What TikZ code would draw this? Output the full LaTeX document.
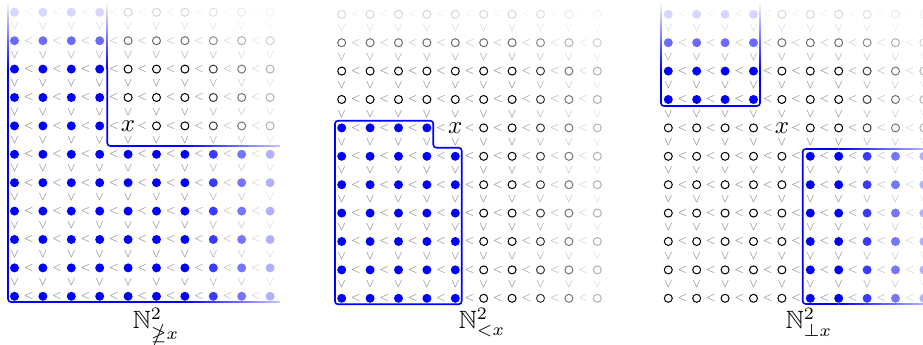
\documentclass[tikz,border=0pt]{standalone}
\usepackage{amssymb}
\usepackage{graphicx}
\begin{document}
\newcommand{\lsym}{\scalebox{0.8}{$\scriptscriptstyle<$}}
\newcommand{\mygrid}[4]{%
\foreach \ci in {0,...,9}{%
 \foreach \ri in {0,...,10}{%
  \pgfmathsetmacro{\px}{#2+28.4*\ci}%
  \pgfmathsetmacro{\py}{#3+28.4*\ri}%
  \pgfmathsetmacro{\al}{100*max(0,min(1,1-(\ci-6)*0.23))*max(0,min(1,1-(2-\ri)*0.42))}%
  \pgfmathtruncatemacro{\isx}{and(\ci==4,\ri==4)}%
  \pgfmathtruncatemacro{\isf}{#4}%
  \ifnum\isx=1
    \node[inner sep=0pt] (#1-\ci-\ri) at (\px,\py) {$x$};
  \else\ifnum\isf=1
    \node[dot=blue!\al!white] (#1-\ci-\ri) at (\px,\py) {};
  \else
    \node[ring=black!\al!white] (#1-\ci-\ri) at (\px,\py) {};
  \fi\fi
  \ifnum\ci<9
    \pgfmathsetmacro{\bl}{48*max(0,min(1,1-(\ci+0.5-6)*0.23))*max(0,min(1,1-(2-\ri)*0.42))}%
    \node[lt=black!\bl!white] (#1-h-\ci-\ri) at (\px+14.2,\py) {\lsym};
  \fi
  \ifnum\ri<10
    \pgfmathsetmacro{\bl}{48*max(0,min(1,1-(\ci-6)*0.23))*max(0,min(1,1-(1.5-\ri)*0.42))}%
    \node[lt=black!\bl!white,rotate=90] (#1-v-\ci-\ri) at (\px,\py+14.2) {\lsym};
  \fi
}}}
\newcommand{\fadeline}[6]{%
 \foreach \k in {0,...,29}{%
  \pgfmathsetmacro{\fa}{100*(#5+(#6-#5)*(\k+0.5)/30)}%
  \draw[blue!\fa!white,line width=0.65pt] ({#1+(#3-#1)*\k/30},{#2+(#4-#2)*\k/30}) -- ({#1+(#3-#1)*(\k+1)/30},{#2+(#4-#2)*(\k+1)/30});
 }}
\begin{tikzpicture}[x=0.4pt,y=-0.4pt,
  dot/.style={circle,inner sep=0pt,minimum size=3.6pt,fill=#1},
  ring/.style={circle,inner sep=0pt,minimum size=3.2pt,draw=#1,line width=0.4pt},
  lt/.style={inner sep=0pt,text=#1},
  region/.style={draw=blue,line width=0.65pt,rounded corners=1.2pt},
  lbl/.style={anchor=base,inner sep=0pt}]
\useasboundingbox (0,0) rectangle (923,345);
% grid 1
\mygrid{a}{14.5}{12.3}{or(\ci<4,\ri>4)}
\draw[region] (8,69.1) |- (184.9,302);
\fadeline{8}{3}{8}{69.1}{0.02}{1}
\fadeline{184.9}{302}{280}{302}{1}{0.23}
\draw[region] (107.3,69.1) |- (184.9,146);
\fadeline{107.3}{3}{107.3}{69.1}{0.02}{1}
\fadeline{184.9}{146}{280}{146}{1}{0.23}
\node[lbl] (la) at (156,329) {$\mathbb{N}^2_{\ngeq x}$};
% grid 2
\mygrid{b}{341.7}{14.3}{and(and(\ci<5,\ri>3),not(and(\ci==4,\ri==4)))}
\draw[region] (335,120.7) -- (433.3,120.7) -- (433.3,147.7) -- (461.7,147.7) -- (461.7,304.3) -- (335,304.3) -- cycle;
\node[lbl] (lb) at (482,329) {$\mathbb{N}^2_{<x}$};
% grid 3
\mygrid{c}{668.3}{14.3}{or(and(\ci<4,\ri<4),and(\ci>4,\ri>4))}
\draw[region] (661,70.9) -- (661,106) -- (760,106) -- (760,70.9);
\fadeline{661}{3}{661}{70.9}{0.02}{1}
\fadeline{760}{3}{760}{70.9}{0.02}{1}
\draw[region] (838.7,149) -| (802.7,304) -- (838.7,304);
\fadeline{838.7}{149}{934}{149}{1}{0.23}
\fadeline{838.7}{304}{934}{304}{1}{0.23}
\node[lbl] (lc) at (809,329) {$\mathbb{N}^2_{\perp x}$};
\end{tikzpicture}
\end{document}
